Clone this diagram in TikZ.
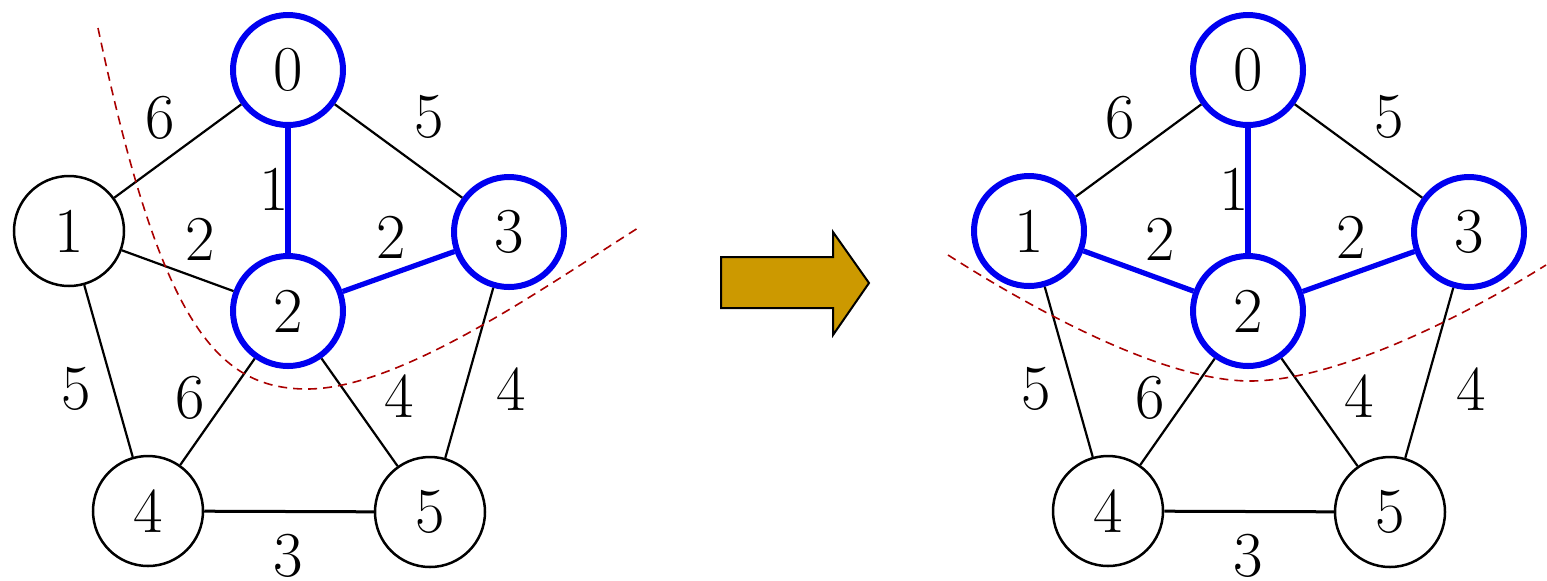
\documentclass[tikz,border=0pt]{standalone}
\definecolor{treeblue}{RGB}{0,0,240}
\definecolor{cutred}{RGB}{170,0,0}
\definecolor{arrowgold}{RGB}{204,153,0}
\tikzset{
  vertex/.style={circle, draw, line width=1.25pt, minimum size=55pt,
    inner sep=0pt, font=\fontsize{32}{32}\selectfont},
  treevertex/.style={vertex, draw=treeblue, line width=3pt},
  edge/.style={line width=1.1pt},
  treeedge/.style={draw=treeblue, line width=2.6pt},
  weight/.style={inner sep=0pt, font=\fontsize{32}{32}\selectfont},
  cutline/.style={draw=cutred, line width=0.8pt, dash pattern=on 4.5pt off 3pt}
}
\begin{document}
\begin{tikzpicture}[x=0.5pt, y=-0.5pt]
  \useasboundingbox (0,0) rectangle (1547,580);

  % before: tree {0,2,3}
  \node[treevertex] (a0) at (288,70) {0};
  \node[vertex]     (a1) at (69,231) {1};
  \node[treevertex] (a2) at (288,311) {2};
  \node[treevertex] (a3) at (509,232) {3};
  \node[vertex]     (a4) at (148,511) {4};
  \node[vertex]     (a5) at (430,512) {5};

  \draw[edge] (a0) -- (a1);
  \draw[edge] (a0) -- (a3);
  \draw[edge] (a1) -- (a2);
  \draw[edge] (a1) -- (a4);
  \draw[edge] (a2) -- (a4);
  \draw[edge] (a2) -- (a5);
  \draw[edge] (a3) -- (a5);
  \draw[edge, line width=1.5pt] (a4) -- (a5);
  \draw[treeedge] (a0) -- (a2);
  \draw[treeedge] (a2) -- (a3);

  \node[weight] (wa01) at (160,118) {6};
  \node[weight] (wa03) at (429,117) {5};
  \node[weight] (wa02) at (274,189) {1};
  \node[weight] (wa12) at (200,239) {2};
  \node[weight] (wa23) at (391,237) {2};
  \node[weight] (wa14) at (76,389) {5};
  \node[weight] (wa24) at (190,398) {6};
  \node[weight] (wa25) at (399,396) {4};
  \node[weight] (wa35) at (511,389) {4};
  \node[weight] (wa45) at (288,556) {3};

  \draw[cutline] (98,28) .. controls (160,320) and (215,389) .. (307,389)
    .. controls (400,389) and (540,290) .. (638,228);

  % step arrow
  \draw[fill=arrowgold, line width=1pt] (721,257) -- (833,257) -- (833,232)
    -- (869,283) -- (833,335) -- (833,308) -- (721,308) -- cycle;

  % after: tree {0,1,2,3}
  \begin{scope}[shift={(960,0)}]
  \node[treevertex] (b0) at (288,70) {0};
  \node[treevertex] (b1) at (69,231) {1};
  \node[treevertex] (b2) at (288,311) {2};
  \node[treevertex] (b3) at (509,232) {3};
  \node[vertex]     (b4) at (148,511) {4};
  \node[vertex]     (b5) at (430,512) {5};

  \draw[edge] (b0) -- (b1);
  \draw[edge] (b0) -- (b3);
  \draw[edge] (b1) -- (b4);
  \draw[edge] (b2) -- (b4);
  \draw[edge] (b2) -- (b5);
  \draw[edge] (b3) -- (b5);
  \draw[edge, line width=1.5pt] (b4) -- (b5);
  \draw[treeedge] (b0) -- (b2);
  \draw[treeedge] (b1) -- (b2);
  \draw[treeedge] (b2) -- (b3);

  \node[weight] (wb01) at (160,118) {6};
  \node[weight] (wb03) at (429,117) {5};
  \node[weight] (wb02) at (274,189) {1};
  \node[weight] (wb12) at (200,239) {2};
  \node[weight] (wb23) at (391,237) {2};
  \node[weight] (wb14) at (76,389) {5};
  \node[weight] (wb24) at (190,398) {6};
  \node[weight] (wb25) at (399,396) {4};
  \node[weight] (wb35) at (511,389) {4};
  \node[weight] (wb45) at (288,556) {3};
  \end{scope}

  \draw[cutline] (948,255) .. controls (1050,320) and (1170,381) .. (1250,381)
    .. controls (1330,381) and (1450,325) .. (1546,265);
\end{tikzpicture}
\end{document}
